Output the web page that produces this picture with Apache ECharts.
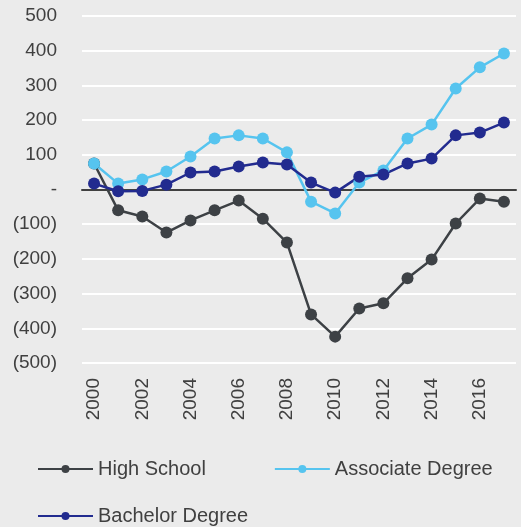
<!DOCTYPE html>
<html>
<head>
<meta charset="utf-8">
<script src="https://cdn.jsdelivr.net/npm/echarts@6/dist/echarts.min.js"></script>
<style>
  html, body { margin: 0; padding: 0; background: #ebebeb; }
  #chart { width: 521px; height: 527px; }
</style>
</head>
<body>
<div id="chart"></div>
<script>
var years = ['2000','2001','2002','2003','2004','2005','2006','2007','2008',
             '2009','2010','2011','2012','2013','2014','2015','2016','2017'];
var highSchool = [75, -60, -78, -124, -89, -60, -32, -84, -153,
                  -360, -424, -343, -328, -256, -202, -98, -26, -35];
var associate = [75, 17, 29, 52, 95, 147, 156, 147, 107,
                 -35, -69, 20, 55, 147, 187, 291, 352, 392];
var bachelor = [17, -5, -4, 14, 49, 52, 66, 78, 72,
                20, -9, 37, 43, 75, 89, 156, 164, 193];

var myChart = echarts.init(document.getElementById('chart'));
var font = 'Liberation Sans, Arial, sans-serif';

function mkSeries(name, data, color) {
    return {
        name: name,
        type: 'line',
        data: data,
        symbol: 'circle',
        symbolSize: 12,
        lineStyle: { color: color, width: 2.5 },
        itemStyle: { color: color },
        animation: false
    };
}

var option = {
    backgroundColor: '#ebebeb',
    grid: { left: 82, right: 5, top: 16, bottom: 164 },
    legend: [{
        data: ['High School', 'Associate Degree'],
        left: 37, top: 459, padding: 0,
        itemWidth: 55, itemHeight: 10, itemGap: 68,
        textStyle: { fontSize: 20, color: '#404040', fontFamily: font }
    }, {
        data: ['Bachelor Degree'],
        left: 37, top: 506, padding: 0,
        itemWidth: 55, itemHeight: 10,
        textStyle: { fontSize: 20, color: '#404040', fontFamily: font }
    }],
    xAxis: {
        type: 'category',
        data: years,
        boundaryGap: true,
        axisLine: { onZero: true, lineStyle: { color: '#404040', width: 2 } },
        axisTick: { show: false },
        axisLabel: {
            rotate: 90, interval: 1, margin: 15,
            fontSize: 19, color: '#404040', fontFamily: font
        }
    },
    yAxis: {
        type: 'value',
        min: -500, max: 500, interval: 100,
        axisLine: { show: false },
        axisTick: { show: false },
        splitLine: { lineStyle: { color: '#ffffff', width: 2 } },
        axisLabel: {
            margin: 25,
            fontSize: 19, color: '#404040', fontFamily: font,
            formatter: function (v) {
                if (v === 0) return '-';
                if (v < 0) return '(' + (-v) + ')';
                return '' + v;
            }
        }
    },
    series: [
        mkSeries('High School', highSchool, '#3d4145'),
        mkSeries('Associate Degree', associate, '#56c4ef'),
        mkSeries('Bachelor Degree', bachelor, '#222b8f')
    ]
};

myChart.setOption(option);
</script>
</body>
</html>
